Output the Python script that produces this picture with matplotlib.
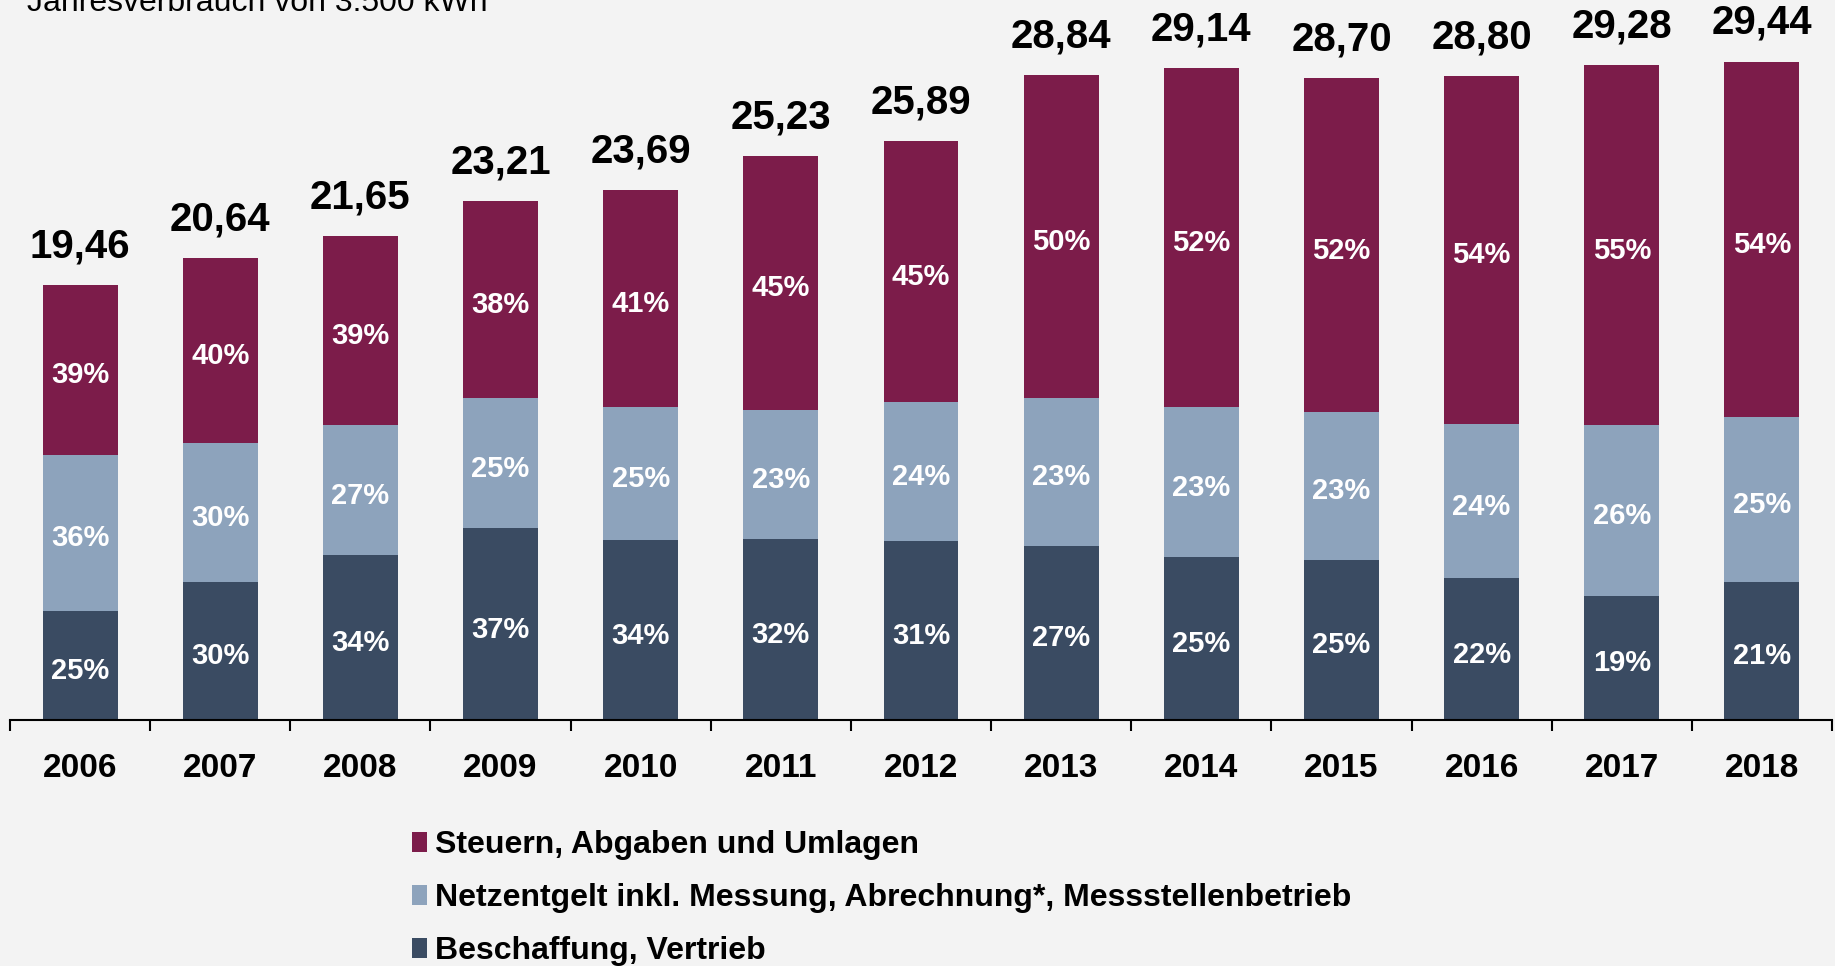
import numpy as np
import matplotlib
matplotlib.use("Agg")
import matplotlib.pyplot as plt

# Data
years = ["2006", "2007", "2008", "2009", "2010", "2011", "2012",
         "2013", "2014", "2015", "2016", "2017", "2018"]
totals = [19.46, 20.64, 21.65, 23.21, 23.69, 25.23, 25.89,
          28.84, 29.14, 28.70, 28.80, 29.28, 29.44]
pct_beschaffung = [25, 30, 34, 37, 34, 32, 31, 27, 25, 25, 22, 19, 21]
pct_netz = [36, 30, 27, 25, 25, 23, 24, 23, 23, 23, 24, 26, 25]
pct_steuern = [39, 40, 39, 38, 41, 45, 45, 50, 52, 52, 54, 55, 54]

labels = ["Beschaffung, Vertrieb",
          "Netzentgelt inkl. Messung, Abrechnung*, Messstellenbetrieb",
          "Steuern, Abgaben und Umlagen"]
colors = ["#3A4B62", "#8DA3BC", "#7C1C4A"]
bg = "#F3F3F3"

plt.rcParams['font.family'] = ['Liberation Sans', 'DejaVu Sans']

W, H = 1835, 966
fig = plt.figure(figsize=(W / 100, H / 100), dpi=100, facecolor=bg)
ax = fig.add_axes([10 / W, 1 - 720 / H, 1822 / W, 720 / H])
ax.set_facecolor(bg)

x = np.arange(len(years))
totals_arr = np.array(totals)
parts = [np.array(pct_beschaffung), np.array(pct_netz), np.array(pct_steuern)]

bottom = np.zeros(len(years))
handles = []
for pct, col, lab in zip(parts, colors, labels):
    vals = totals_arr * pct / 100.0
    b = ax.bar(x, vals, width=0.535, bottom=bottom, color=col, label=lab)
    handles.append(b)
    # percentage labels in the middle of each segment
    for xi, bt, v, p in zip(x, bottom, vals, pct):
        ax.annotate(f"{p}%", (xi, bt + v / 2), xytext=(0, -4),
                    textcoords='offset points', ha='center', va='center',
                    color='white', fontsize=21, fontweight='bold')
    bottom = bottom + vals

# totals above bars
for xi, t in zip(x, totals):
    ax.annotate(f"{t:.2f}".replace('.', ','), (xi, t), xytext=(0, 20),
                textcoords='offset points', ha='center', va='baseline',
                fontsize=29, fontweight='bold', color='black')

ax.set_xlim(-0.5, len(years) - 0.5)
ax.set_ylim(0, 32.2)
ax.set_yticks([])
for s in ['top', 'right', 'left']:
    ax.spines[s].set_visible(False)
ax.spines['bottom'].set_linewidth(1.5)

ax.set_xticks(x)
ax.set_xticklabels(years, fontsize=24, fontweight='bold')
ax.tick_params(axis='x', which='major', length=0, pad=23.5)
ax.set_xticks(np.arange(-0.5, len(years)), minor=True)
ax.tick_params(axis='x', which='minor', length=8, width=1.5, direction='out')

fig.text(27 / W, 1 - 11 / H, "Jahresverbrauch von 3.500 kWh",
         fontsize=23, va='baseline', ha='left')

leg = fig.legend(handles[::-1], labels[::-1], loc='upper left',
                 bbox_to_anchor=(412 / W, 1 - 830 / H), frameon=False,
                 prop={'weight': 'bold', 'size': 23},
                 handlelength=0.47, handleheight=0.6, handletextpad=0.25,
                 labelspacing=0.72, borderpad=0, borderaxespad=0)

fig.savefig("out.png", dpi=100, facecolor=bg)
